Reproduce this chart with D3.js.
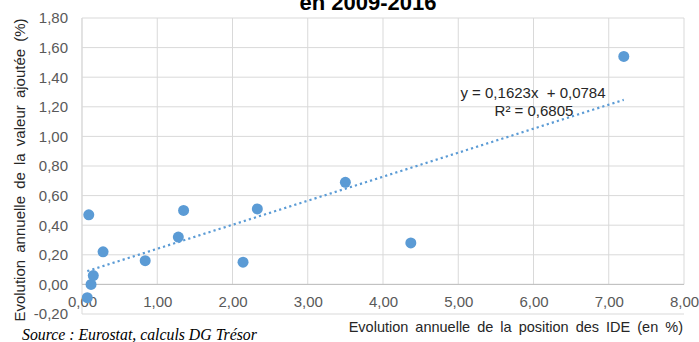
<!DOCTYPE html>
<html>
<head>
<meta charset="utf-8">
<script src="https://cdn.jsdelivr.net/npm/d3@7"></script>
<style>
  body { margin: 0; background: #fff; }
  text { font-family: Arial, "Liberation Sans", sans-serif; }
</style>
</head>
<body>
<div class="canvas"></div>
<script>
// data
const ideGrowth = [7.20, 0.09, 1.35, 2.33, 3.50, 1.28, 4.37, 0.28, 0.84, 2.14, 0.15, 0.12, 0.07];
const vaGrowth  = [1.54, 0.47, 0.50, 0.51, 0.69, 0.32, 0.28, 0.22, 0.16, 0.15, 0.06, 0.00, -0.09];
const xTicks = [0, 1, 2, 3, 4, 5, 6, 7, 8];
const yTicks = [-0.2, 0, 0.2, 0.4, 0.6, 0.8, 1.0, 1.2, 1.4, 1.6, 1.8];
const slope = 0.1623;
const intercept = 0.0784;
const r2 = 0.6805;

const width = 699, height = 342;
const margin = {top: 18, right: 15, bottom: 28, left: 82};
const graphWidth = width - margin.left - margin.right;
const graphHeight = height - margin.top - margin.bottom;

const svg = d3.select('.canvas')
  .append('svg')
    .attr('width', width)
    .attr('height', height);

const fr = d3.format('.2f');
const comma = v => fr(v).replace('.', ',').replace('−', '-');

const x = d3.scaleLinear().domain([0, 8]).range([0, graphWidth]);
const y = d3.scaleLinear().domain([-0.2, 1.8]).range([graphHeight, 0]);

const graph = svg.append('g')
  .attr('transform', `translate(${margin.left}, ${margin.top})`);

// horizontal grid
graph.append('g')
  .selectAll('line')
  .data(yTicks)
  .enter().append('line')
    .attr('x1', 0).attr('x2', graphWidth)
    .attr('y1', d => y(d)).attr('y2', d => y(d))
    .attr('stroke', '#d9d9d9');

// vertical grid (stops at the horizontal axis)
graph.append('g')
  .selectAll('line')
  .data(xTicks)
  .enter().append('line')
    .attr('x1', d => x(d)).attr('x2', d => x(d))
    .attr('y1', 0).attr('y2', y(0))
    .attr('stroke', '#d9d9d9');

graph.append('line')
  .attr('x1', 0).attr('x2', 0)
  .attr('y1', 0).attr('y2', graphHeight)
  .attr('stroke', '#d9d9d9');

graph.append('line')
  .attr('x1', 0).attr('x2', graphWidth)
  .attr('y1', y(0)).attr('y2', y(0))
  .attr('stroke', '#bfbfbf');

// axes
const yAxis = d3.axisLeft(y).tickValues(yTicks).tickSize(0).tickPadding(14).tickFormat(comma);
const xAxis = d3.axisBottom(x).tickValues(xTicks).tickSize(0).tickPadding(12).tickFormat(comma);

const yAxisGroup = graph.append('g').call(yAxis);
const xAxisGroup = graph.append('g').attr('transform', `translate(0, ${y(0)})`).call(xAxis);

[yAxisGroup, xAxisGroup].forEach(g => {
  g.select('.domain').remove();
  g.selectAll('text')
    .attr('fill', '#595959')
    .style('font-size', '15px')
    .style('font-family', 'Arial, "Liberation Sans", sans-serif');
});

// trend line
const xMin = d3.min(ideGrowth), xMax = d3.max(ideGrowth);
graph.append('line')
  .attr('x1', x(xMin)).attr('y1', y(slope * xMin + intercept))
  .attr('x2', x(xMax)).attr('y2', y(slope * xMax + intercept))
  .attr('stroke', '#5b9bd5')
  .attr('stroke-width', 2.2)
  .attr('stroke-dasharray', '2.2,3.1');

// points
graph.selectAll('circle')
  .data(ideGrowth.map((d, i) => ({x: d, y: vaGrowth[i]})))
  .enter().append('circle')
    .attr('cx', d => x(d.x))
    .attr('cy', d => y(d.y))
    .attr('r', 5.5)
    .attr('fill', '#5b9bd5');

// equation
const fx = d3.format('.4f');
svg.append('text')
  .attr('x', 533).attr('y', 98)
  .attr('text-anchor', 'middle')
  .style('font-size', '15px').attr('fill', '#262626')
  .style('white-space', 'pre')
  .text(`y = ${fx(slope).replace('.', ',')}x  + ${fx(intercept).replace('.', ',')}`);

svg.append('text')
  .attr('x', 534).attr('y', 116)
  .attr('text-anchor', 'middle')
  .style('font-size', '15px').attr('fill', '#262626')
  .text(`R² = ${fx(r2).replace('.', ',')}`);

// titles
svg.append('text')
  .attr('x', 368).attr('y', 10)
  .attr('text-anchor', 'middle')
  .style('font-size', '22px').style('font-weight', 'bold')
  .attr('fill', '#000')
  .text('en 2009-2016');

svg.append('text')
  .attr('transform', 'translate(20, 170) rotate(-90)')
  .attr('text-anchor', 'middle')
  .attr('dy', '0.35em')
  .style('font-size', '15px').style('word-spacing', '3px')
  .attr('fill', '#262626')
  .text('Evolution annuelle de la valeur ajoutée (%)');

svg.append('text')
  .attr('x', 683).attr('y', 332)
  .attr('text-anchor', 'end')
  .style('font-size', '14.5px').style('word-spacing', '3px')
  .attr('fill', '#262626')
  .text('Evolution annuelle de la position des IDE (en %)');

svg.append('text')
  .attr('x', 22).attr('y', 340)
  .style('font-size', '15.8px').style('font-style', 'italic')
  .style('font-family', '"Liberation Serif", "Times New Roman", serif')
  .attr('fill', '#000')
  .text('Source : Eurostat, calculs DG Trésor');
</script>
</body>
</html>
